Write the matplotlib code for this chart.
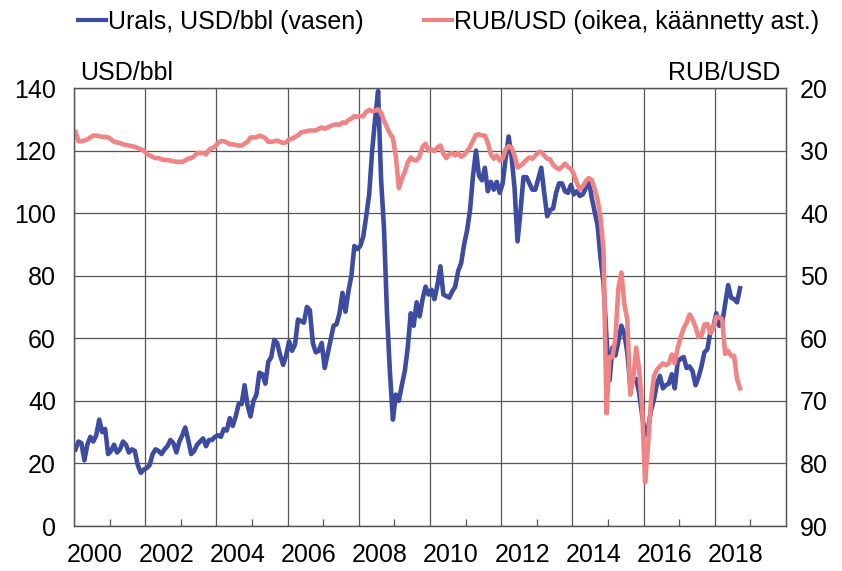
"""Urals-öljyn hinta ja ruplan kurssi 2000-2018."""

import numpy as np
import matplotlib

matplotlib.use("Agg")

import matplotlib.pyplot as plt
from matplotlib.lines import Line2D
from matplotlib.transforms import ScaledTranslation

SININEN = "#3d4ca0"
PUNAINEN = "#f08484"
HARMAA = "#555555"

# kuukausiarvot, alkaen tammikuu 2000
ALKUVUOSI = 2000

urals = [
    24.5, 27, 26.5, 21, 26, 28.5, 27, 29, 34, 30, 31, 23,            # 2000
    24, 26, 23.5, 24.5, 27, 26, 23.5, 24.5, 24, 19.5, 17, 18,        # 2001
    18.5, 19.5, 23, 24.5, 24, 23, 24.5, 25.5, 27.5, 26.5, 23.5, 27,  # 2002
    29, 31.5, 27.5, 23, 24, 26, 27, 28, 25.5, 27.5, 27.5, 28.5,      # 2003
    29, 28.5, 31, 30.5, 34.5, 32, 35, 39, 39, 45, 38.5, 35,          # 2004
    40, 42, 49, 48.5, 45.5, 52.5, 54, 59.5, 58.5, 54.5, 51.5, 54.5,  # 2005
    59, 56, 58, 66, 65.5, 65, 70, 69, 58.5, 55.5, 56, 58.5,          # 2006
    50.5, 55, 59.5, 64, 64.5, 68, 74.5, 68.5, 75, 80, 89.5, 88.5,    # 2007
    89.5, 92.5, 99, 106, 120, 130, 139, 111, 95, 68, 49, 34,         # 2008
    42, 40, 45, 49.5, 57, 68, 64, 71.5, 67, 72.5, 76.5, 74,          # 2009
    75.5, 72.5, 77, 83, 74, 73.5, 73, 75, 76.5, 81.5, 84, 90,        # 2010
    94.5, 101, 112, 120, 112, 110.5, 114.5, 107, 110, 107.5, 110, 106.5,  # 2011
    109.5, 117.5, 124.5, 118, 108, 91, 100.5, 111.5, 111.5, 109.5, 107.5, 107.5,  # 2012
    111, 114.5, 106.5, 99, 101, 101.5, 106.5, 109.5, 109.5, 107, 106.5, 109,  # 2013
    106, 107, 105.5, 106, 108, 111, 105, 100.5, 96, 85.5, 77.5, 60,  # 2014
    46.5, 57, 54.5, 59, 64, 61.5, 55.5, 45, 46.5, 47, 42.5, 35.5,    # 2015
    29, 31, 37, 40.5, 45.5, 48, 44, 45, 45.5, 48.5, 44, 52.5,        # 2016
    53.5, 54, 50.5, 51, 49.5, 45, 47.5, 51, 55.5, 56.5, 62, 63.5,    # 2017
    68, 64, 65, 71, 77, 73, 72.5, 71.5, 76,                          # 2018
]

rub_usd = [
    27.0, 28.5, 28.5, 28.4, 28.2, 27.9, 27.6, 27.6, 27.7, 27.8, 27.8, 27.9,  # 2000
    28.2, 28.6, 28.7, 28.8, 29.0, 29.1, 29.2, 29.3, 29.4, 29.6, 29.8, 30.0,  # 2001
    30.5, 30.8, 31.0, 31.2, 31.2, 31.4, 31.5, 31.5, 31.6, 31.7, 31.8, 31.8,  # 2002
    31.8, 31.6, 31.3, 31.2, 30.9, 30.4, 30.4, 30.4, 30.6, 29.9, 29.6, 29.4,  # 2003
    28.8, 28.5, 28.5, 28.7, 29.0, 29.0, 29.1, 29.2, 29.2, 28.9, 28.6, 27.9,  # 2004
    27.9, 27.9, 27.6, 27.8, 28.0, 28.6, 28.6, 28.5, 28.4, 28.6, 28.8, 28.7,  # 2005
    28.2, 28.1, 27.8, 27.6, 27.1, 27.0, 26.9, 26.8, 26.8, 26.8, 26.5, 26.3,  # 2006
    26.5, 26.3, 26.1, 25.9, 25.8, 25.9, 25.5, 25.6, 25.1, 24.9, 24.5, 24.6,  # 2007
    24.5, 24.5, 23.8, 23.5, 23.7, 23.6, 23.4, 24.0, 25.2, 26.3, 27.3, 28.0,  # 2008
    31.0, 36.0, 34.5, 33.4, 31.9, 31.1, 31.5, 31.6, 30.9, 29.4, 28.9, 30.0,  # 2009
    29.8, 30.1, 29.5, 29.2, 30.5, 31.2, 30.6, 30.4, 30.8, 30.4, 31.0, 30.7,  # 2010
    30.1, 29.4, 28.4, 27.5, 27.4, 27.6, 27.6, 28.8, 30.6, 31.3, 30.8, 31.6,  # 2011
    31.3, 29.8, 29.3, 29.5, 30.8, 32.7, 32.4, 32.0, 31.5, 31.1, 31.3, 30.8,  # 2012
    30.3, 30.2, 30.8, 31.3, 31.4, 32.3, 32.7, 33.0, 32.6, 32.1, 32.6, 32.9,  # 2013
    33.8, 35.2, 36.2, 35.7, 34.9, 34.4, 34.7, 36.1, 37.9, 40.8, 46.0, 72.0,  # 2014
    63.0, 63.0, 60.0, 52.0, 49.5, 54.5, 57.0, 69.0, 66.5, 61.5, 65.0, 71.0,  # 2015
    83.0, 77.0, 70.0, 66.0, 65.0, 64.5, 64.0, 64.3, 64.0, 62.6, 64.0, 61.5,  # 2016
    59.8, 58.4, 57.5, 56.2, 57.0, 58.2, 59.8, 59.6, 57.8, 57.7, 59.2, 58.4,  # 2017
    56.6, 56.6, 57.0, 62.5, 62.0, 62.8, 62.8, 66.5, 68.0,                    # 2018
]

vuodet = list(range(2000, 2019, 2))

plt.rcParams["font.family"] = ["Liberation Sans", "DejaVu Sans"]
plt.rcParams["font.size"] = 18

fig = plt.figure(figsize=(8.42, 5.71), dpi=100)
ax = fig.add_axes([74 / 842, 1 - 526 / 571, 712 / 842, 438 / 571])
ax2 = ax.twinx()

x_urals = ALKUVUOSI + (np.arange(len(urals)) + 0.5) / 12
x_rub = ALKUVUOSI + (np.arange(len(rub_usd)) + 0.5) / 12

ax.plot(x_urals, urals, color=SININEN, lw=3.3, solid_joinstyle="round")
ax2.plot(x_rub, rub_usd, color=PUNAINEN, lw=3.3, solid_joinstyle="round")

ax.set_xlim(2000, 2020)
ax.set_ylim(0, 140)
ax2.set_ylim(90, 20)  # käännetty asteikko

ax.set_yticks(range(0, 141, 20))
ax2.set_yticks(range(20, 91, 10))
ax.set_xticks(vuodet)
ax.set_xticklabels([str(v) for v in vuodet])
ax.set_xticks(range(2001, 2020, 2), minor=True)

ax.set_axisbelow(True)
ax.grid(True, which="major", color=HARMAA, lw=0.9)
ax.tick_params(axis="x", which="major", length=0, pad=12)
ax.tick_params(axis="x", which="minor", direction="in", length=5,
               color=HARMAA, width=0.9)
ax.tick_params(axis="y", length=0, pad=13)
ax2.tick_params(axis="y", length=0, pad=10)

# vuosiluvut hieman gridiviivan oikealle puolelle
siirto = ScaledTranslation(0.21, 0, fig.dpi_scale_trans)
for lab in ax.get_xticklabels():
    lab.set_transform(lab.get_transform() + siirto)

for a in (ax, ax2):
    for s in a.spines.values():
        s.set_color(HARMAA)
        s.set_linewidth(0.9)

ax.text(0.008, 1.034, "USD/bbl", transform=ax.transAxes, ha="left", va="center")
ax.text(0.992, 1.034, "RUB/USD", transform=ax.transAxes, ha="right", va="center")

kahvat = [Line2D([], [], color=SININEN, lw=3),
          Line2D([], [], color=PUNAINEN, lw=3)]
fig.legend(kahvat, ["Urals, USD/bbl (vasen)", "RUB/USD (oikea, käännetty ast.)"],
           loc="center", bbox_to_anchor=(0.533, 0.962), ncol=2, frameon=False,
           handlelength=1.1, handletextpad=0.1, columnspacing=2.4)

fig.savefig("out.png", dpi=100)
